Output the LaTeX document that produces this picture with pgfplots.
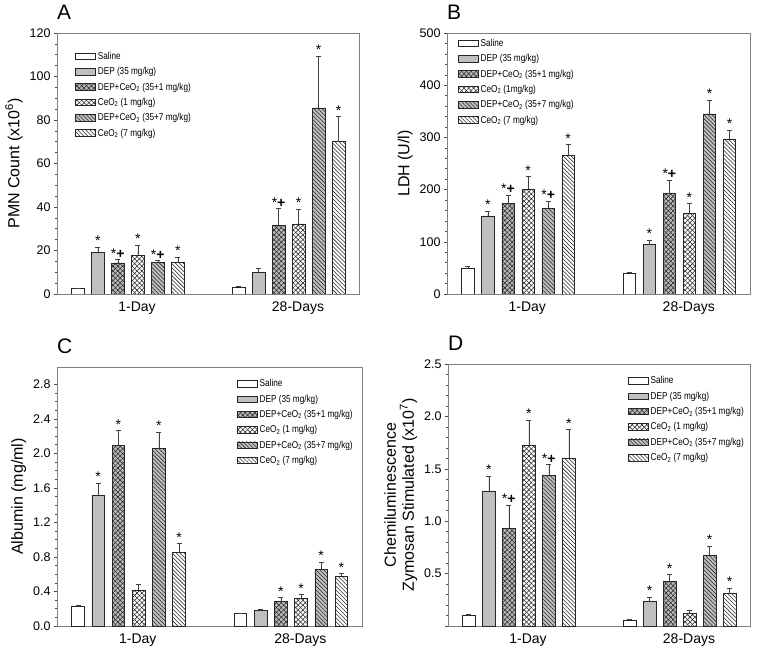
\documentclass[border=0pt]{standalone}
\usepackage{fontspec}
\setmainfont{Liberation Sans}
\newfontfamily\narrowfont[FakeStretch=0.82]{Liberation Sans}
\usepackage{pgfplots}
\pgfplotsset{compat=1.18}
\usetikzlibrary{patterns.meta}

\pgfplotsset{
  panel/.style={
    scale only axis, anchor=south west,
    xmin=0, xmax=15.1, ymin=0,
    axis line style={draw=gray, line width=0.6pt},
    xtick={4.0,12.05}, xticklabels={1-Day,28-Days},
    x tick style={draw=none},
    x tick label style={font=\fontsize{14}{14}\selectfont, yshift=-1pt},
    ytick pos=left, tick align=outside,
    major tick length=3pt, minor tick length=2pt,
    y tick style={gray!60!black, line width=0.5pt},
    y tick label style={font=\fontsize{12.5}{12.5}\selectfont},
    ylabel style={font=\fontsize{16}{18}\selectfont},
    /pgf/number format/assume math mode=true,
    title style={at={(0,1)}, anchor=south west, font=\fontsize{21}{21}\selectfont, inner sep=0pt, yshift=7pt},
    legend cell align=left,
    legend style={draw=none, fill=none, anchor=north west, font=\narrowfont\fontsize{10}{10}\selectfont, row sep=2.6pt, inner sep=0pt},
    legend image code/.code={\draw[##1] (0pt,-3pt) rectangle (20pt,3.5pt);},
  },
  bars/.style={ybar, bar width=0.62, bar shift=0pt, draw=black!85, line width=0.55pt,
    error bars/y dir=plus, error bars/y explicit,
    error bars/error bar style={black!75, line width=0.6pt},
    error bars/error mark options={rotate=90, mark size=2.5pt, black!75, line width=0.6pt}},
  ann/.style={only marks, mark=none, forget plot, nodes near coords, point meta=explicit symbolic,
    nodes near coords style={anchor=base, font=\fontsize{14}{14}\selectfont, inner sep=0pt, yshift=1.5pt}},
  sal/.style={fill=white},
  dep/.style={fill=gray!50},
  dc1/.style={fill=gray!55,
    postaction={pattern={Lines[angle=45,distance=3.4pt,line width=0.55pt]}, pattern color=black!85},
    postaction={pattern={Lines[angle=-45,distance=3.4pt,line width=0.55pt]}, pattern color=black!85}},
  c1/.style={fill=white,
    postaction={pattern={Lines[angle=45,distance=3.4pt,line width=0.55pt]}, pattern color=black!85},
    postaction={pattern={Lines[angle=-45,distance=3.4pt,line width=0.55pt]}, pattern color=black!85}},
  dc7/.style={fill=gray!50,
    postaction={pattern={Lines[angle=-45,distance=2.8pt,line width=0.55pt]}, pattern color=black!85}},
  c7/.style={fill=white,
    postaction={pattern={Lines[angle=-45,distance=2.8pt,line width=0.55pt]}, pattern color=black!85}},
}

\begin{document}
\begin{tikzpicture}
\useasboundingbox (0,0) rectangle (762pt,658pt);

% ---------------- A ----------------
\begin{axis}[panel, at={(57pt,364pt)}, width=302pt, height=261pt,
  ymax=120, ytick={0,20,...,120}, minor y tick num=3,
  ylabel={PMN Count (x10\textsuperscript{6})},
  title={A}, legend style={at={(0.06,0.935)}}]
\addplot[bars, sal] coordinates {(1.04,2.5) +- (0,0.3) (9.08,3.2) +- (0,0.3)};
\addlegendentry{Saline}
\addplot[bars, dep] coordinates {(2.04,19.2) +- (0,2.3) (10.08,10.1) +- (0,1.7)};
\addlegendentry{DEP (35 mg/kg)}
\addplot[bars, dc1] coordinates {(3.04,14.3) +- (0,1.5) (11.08,31.5) +- (0,7.8)};
\addlegendentry{DEP+CeO\textsubscript{2} (35+1 mg/kg)}
\addplot[bars, c1] coordinates {(4.04,17.8) +- (0,4.6) (12.08,32.2) +- (0,6.9)};
\addlegendentry{CeO\textsubscript{2} (1 mg/kg)}
\addplot[bars, dc7] coordinates {(5.04,14.4) +- (0,0.9) (13.08,85.6) +- (0,23.7)};
\addlegendentry{DEP+CeO\textsubscript{2} (35+7 mg/kg)}
\addplot[bars, c7] coordinates {(6.04,14.4) +- (0,2.6) (14.08,70.0) +- (0,11.5)};
\addlegendentry{CeO\textsubscript{2} (7 mg/kg)}
\addplot[ann] coordinates {(2.04,21.5)[*] (3.04,15.8)[*\textbf{+}] (4.04,22.4)[*] (5.04,15.3)[*\textbf{+}] (6.04,17.0)[*]
  (11.08,39.3)[*\textbf{+}] (12.08,39.1)[*] (13.08,109.3)[*] (14.08,81.5)[*]};
\end{axis}

% ---------------- B ----------------
\begin{axis}[panel, at={(447pt,364pt)}, width=303pt, height=261pt,
  ymax=500, ytick={0,100,...,500}, minor y tick num=4,
  ylabel={LDH (U/l)},
  title={B}, legend style={at={(0.036,0.985)}}]
\addplot[bars, sal] coordinates {(1.04,50) +- (0,3.7) (9.08,39.6) +- (0,2.4)};
\addlegendentry{Saline}
\addplot[bars, dep] coordinates {(2.04,149.6) +- (0,9.4) (10.08,94.6) +- (0,8.4)};
\addlegendentry{DEP (35 mg/kg)}
\addplot[bars, dc1] coordinates {(3.04,174) +- (0,16) (11.08,192.5) +- (0,25.5)};
\addlegendentry{DEP+CeO\textsubscript{2} (35+1 mg/kg)}
\addplot[bars, c1] coordinates {(4.04,201) +- (0,24) (12.08,154.7) +- (0,18.3)};
\addlegendentry{CeO\textsubscript{2} (1mg/kg)}
\addplot[bars, dc7] coordinates {(5.04,164) +- (0,14) (13.08,345) +- (0,26)};
\addlegendentry{DEP+CeO\textsubscript{2} (35+7 mg/kg)}
\addplot[bars, c7] coordinates {(6.04,265) +- (0,21) (14.08,297) +- (0,17)};
\addlegendentry{CeO\textsubscript{2} (7 mg/kg)}
\addplot[ann] coordinates {(2.04,159)[*] (3.04,190)[*\textbf{+}] (4.04,225)[*] (5.04,178)[*\textbf{+}] (6.04,286)[*]
  (10.08,103)[*] (11.08,218)[*\textbf{+}] (12.08,173)[*] (13.08,371)[*] (14.08,314)[*]};
\end{axis}

% ---------------- C ----------------
\begin{axis}[panel, at={(57pt,32pt)}, width=305pt, height=259pt,
  ymax=3.0, ytick={0,0.4,...,2.8}, minor y tick num=3,
  yticklabel style={/pgf/number format/.cd, fixed, fixed zerofill, precision=1},
  ylabel={Albumin (mg/ml)},
  title={C}, legend style={at={(0.59,0.96)}}]
\addplot[bars, sal] coordinates {(1.04,0.223) +- (0,0.02) (9.08,0.142) +- (0,0.008)};
\addlegendentry{Saline}
\addplot[bars, dep] coordinates {(2.04,1.519) +- (0,0.139) (10.08,0.181) +- (0,0.009)};
\addlegendentry{DEP (35 mg/kg)}
\addplot[bars, dc1] coordinates {(3.04,2.096) +- (0,0.166) (11.08,0.281) +- (0,0.046)};
\addlegendentry{DEP+CeO\textsubscript{2} (35+1 mg/kg)}
\addplot[bars, c1] coordinates {(4.04,0.419) +- (0,0.062) (12.08,0.323) +- (0,0.039)};
\addlegendentry{CeO\textsubscript{2} (1 mg/kg)}
\addplot[bars, dc7] coordinates {(5.04,2.058) +- (0,0.188) (13.08,0.658) +- (0,0.08)};
\addlegendentry{DEP+CeO\textsubscript{2} (35+7 mg/kg)}
\addplot[bars, c7] coordinates {(6.04,0.854) +- (0,0.1) (14.08,0.577) +- (0,0.031)};
\addlegendentry{CeO\textsubscript{2} (7 mg/kg)}
\addplot[ann] coordinates {(2.04,1.658)[*] (3.04,2.262)[*] (5.04,2.246)[*] (6.04,0.954)[*]
  (11.08,0.327)[*] (12.08,0.362)[*] (13.08,0.738)[*] (14.08,0.608)[*]};
\end{axis}

% ---------------- D ----------------
\begin{axis}[panel, at={(448pt,32pt)}, width=302pt, height=262pt,
  ymax=2.5, ytick={0,0.5,...,2.5}, yticklabels={,0.5,1.0,1.5,2.0,2.5}, minor y tick num=4,
  ylabel={Chemiluminescence\\Zymosan Stimulated (x10\textsuperscript{7})},
  ylabel style={align=center},
  title={D}, legend style={at={(0.596,0.96)}}]
\addplot[bars, sal] coordinates {(1.04,0.099) +- (0,0.009) (9.08,0.057) +- (0,0.004)};
\addlegendentry{Saline}
\addplot[bars, dep] coordinates {(2.04,1.29) +- (0,0.137) (10.08,0.239) +- (0,0.035)};
\addlegendentry{DEP (35 mg/kg)}
\addplot[bars, dc1] coordinates {(3.04,0.933) +- (0,0.22) (11.08,0.424) +- (0,0.066)};
\addlegendentry{DEP+CeO\textsubscript{2} (35+1 mg/kg)}
\addplot[bars, c1] coordinates {(4.04,1.723) +- (0,0.239) (12.08,0.121) +- (0,0.025)};
\addlegendentry{CeO\textsubscript{2} (1 mg/kg)}
\addplot[bars, dc7] coordinates {(5.04,1.44) +- (0,0.101) (13.08,0.675) +- (0,0.086)};
\addlegendentry{DEP+CeO\textsubscript{2} (35+7 mg/kg)}
\addplot[bars, c7] coordinates {(6.04,1.605) +- (0,0.268) (14.08,0.309) +- (0,0.054)};
\addlegendentry{CeO\textsubscript{2} (7 mg/kg)}
\addplot[ann] coordinates {(2.04,1.427)[*] (3.04,1.153)[*\textbf{+}] (4.04,1.962)[*] (5.04,1.541)[*\textbf{+}] (6.04,1.873)[*]
  (10.08,0.274)[*] (11.08,0.49)[*] (13.08,0.761)[*] (14.08,0.363)[*]};
\end{axis}
\end{tikzpicture}
\end{document}
